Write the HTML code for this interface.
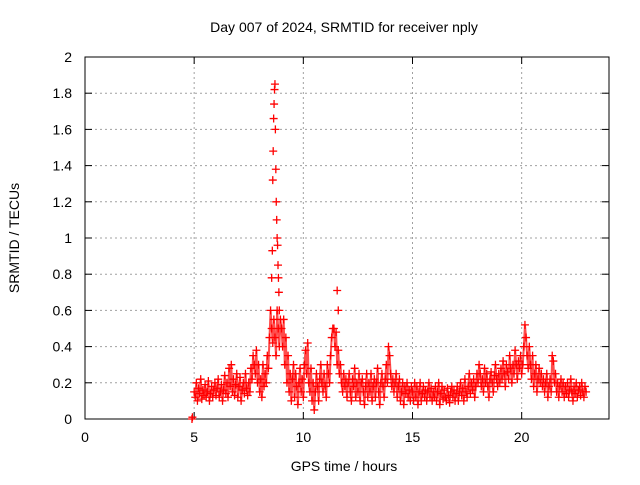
<!DOCTYPE html>
<html><head><meta charset="utf-8"><style>
body{margin:0;background:#fff}
svg text{font-family:"Liberation Sans",sans-serif;font-size:14px;fill:#000}
</style></head><body>
<svg id="c" width="640" height="480">
<rect x="0" y="0" width="640" height="480" fill="#fff"/>
<g id="grid"></g>
<rect x="85" y="57" width="524" height="362" fill="none" stroke="#000" stroke-width="1"/>
<g id="ticks"></g>
<g id="marks"></g>
<text x="344" y="32" text-anchor="middle">Day 007 of 2024, SRMTID for receiver nply</text>
<text x="344" y="471" text-anchor="middle">GPS time / hours</text>
<text x="19" y="238" text-anchor="middle" transform="rotate(-90 19 238)">SRMTID / TECUs</text>
</svg>
<script>
const xTicks=[0,5,10,15,20];
const yTicks=[0,0.2,0.4,0.6,0.8,1,1.2,1.4,1.6,1.8,2];
const yTickLabels=["0","0.2","0.4","0.6","0.8","1","1.2","1.4","1.6","1.8","2"];
const startHour=5.0, stepHour=0.05;
const values=[
0.15,0.12,0.2,0.1,0.17,0.14,0.22,0.11,0.16,0.13,0.19,0.12,0.15,0.21,0.1,0.14,0.18,0.12,0.16,0.2,
0.13,0.17,0.22,0.12,0.15,0.19,0.1,0.16,0.24,0.14,0.2,0.12,0.28,0.18,0.3,0.15,0.22,0.13,0.19,0.25,
0.12,0.18,0.23,0.1,0.16,0.2,0.14,0.25,0.17,0.13,0.2,0.15,0.28,0.22,0.35,0.3,0.25,0.38,0.2,0.3,
0.15,0.22,0.12,0.3,0.18,0.25,0.2,0.35,0.28,0.45,
0.6,0.5,0.42,0.55,0.45,0.35,0.6,0.5,0.4,0.55,
0.5,0.4,0.55,0.3,0.45,0.2,0.35,0.15,0.25,0.1,0.22,0.3,0.12,0.25,0.18,0.08,0.2,0.28,0.15,0.22,
0.12,0.3,0.38,0.25,0.42,0.2,0.15,0.28,0.1,0.2,0.05,0.15,0.25,0.18,0.1,0.22,0.3,0.2,0.15,0.25,
0.18,0.12,0.3,0.25,0.2,0.35,0.45,0.5,0.5,0.4,0.48,0.3,0.38,0.25,0.3,0.2,0.15,0.25,0.18,0.22,
0.12,0.2,0.25,0.15,0.1,0.22,0.18,0.28,0.12,0.2,0.15,0.25,0.1,0.2,0.22,0.15,0.08,0.18,0.25,0.12,
0.2,0.15,0.25,0.1,0.18,0.22,0.12,0.2,0.28,0.15,0.08,0.2,0.25,0.18,0.12,0.22,0.3,0.2,0.4,0.35,
0.25,0.18,0.22,0.15,0.2,0.25,0.12,0.18,0.22,0.1,0.15,0.2,0.08,0.18,0.14,0.2,0.12,0.16,0.1,0.18,
0.15,0.1,0.2,0.12,0.18,0.08,0.15,0.2,0.1,0.14,0.18,0.12,0.16,0.1,0.15,0.2,0.12,0.17,0.1,0.15,
0.12,0.18,0.1,0.15,0.2,0.08,0.14,0.18,0.11,0.16,0.12,0.1,0.17,0.13,0.09,0.15,0.18,0.12,0.16,0.1,
0.14,0.18,0.1,0.15,0.2,0.13,0.17,0.1,0.22,0.15,0.12,0.18,0.25,0.14,0.2,0.16,0.22,0.12,0.18,0.25,
0.2,0.3,0.25,0.18,0.22,0.15,0.28,0.2,0.25,0.18,0.12,0.22,0.26,0.2,0.15,0.24,0.3,0.22,0.18,0.25,
0.2,0.28,0.22,0.32,0.25,0.18,0.3,0.26,0.22,0.35,0.28,0.2,0.3,0.25,0.38,0.3,0.22,0.32,0.28,0.35,
0.25,0.3,0.4,0.52,0.45,0.35,0.28,0.4,0.3,0.22,0.35,0.18,0.25,0.3,0.15,0.22,0.28,0.2,0.25,0.18,
0.22,0.15,0.2,0.25,0.12,0.18,0.22,0.15,0.35,0.32,0.2,0.25,0.15,0.2,0.12,0.18,0.22,0.15,0.2,0.12,
0.18,0.14,0.2,0.12,0.16,0.22,0.15,0.1,0.18,0.14,0.2,0.12,0.16,0.18,0.13,0.2,0.15,0.12,0.18,0.15];
const spikeHours=[4.9,4.92,8.55,8.58,8.6,8.62,8.64,8.66,8.68,8.7,8.72,8.74,8.76,8.78,8.8,8.82,8.84,8.86,8.88,8.9,11.55,11.6];
const spikeValues=[0,0.01,0.78,0.93,1.32,1.48,1.66,1.74,1.82,1.85,1.6,1.38,1.2,1.1,1.0,0.96,0.85,0.78,0.7,0.6,0.71,0.6];

const NS="http://www.w3.org/2000/svg";
const X0=85,X1=609,Y0=419,Y1=57;
const xs=h=>X0+(h/24)*(X1-X0);
const ys=v=>Y0-(v/2)*(Y0-Y1);
function mk(t,a,p){const e=document.createElementNS(NS,t);for(const k in a)e.setAttribute(k,a[k]);p.appendChild(e);return e;}
const grid=document.getElementById('grid'),ticks=document.getElementById('ticks'),marks=document.getElementById('marks');
yTicks.forEach((v,i)=>{
 const y=ys(v);
 if(i>0&&i<yTicks.length-1){const g=mk('line',{x1:X0,x2:X1,y1:y,y2:y,stroke:'#a0a0a0','stroke-dasharray':'2,3'},grid);
 
 }
 mk('line',{x1:X0,x2:X0+7,y1:y,y2:y,stroke:'#000'},ticks);
 mk('line',{x1:X1,x2:X1-7,y1:y,y2:y,stroke:'#000'},ticks);
 const t=mk('text',{x:72,y:y+5,'text-anchor':'end'},ticks);t.textContent=yTickLabels[i];
 
 
});
xTicks.forEach(h=>{
 const x=xs(h);
 if(h>0){const g=mk('line',{x1:x,x2:x,y1:Y0,y2:Y1,stroke:'#a0a0a0','stroke-dasharray':'2,3'},grid);
 
 }
 mk('line',{x1:x,x2:x,y1:Y0,y2:Y0-7,stroke:'#000'},ticks);
 mk('line',{x1:x,x2:x,y1:Y1,y2:Y1+7,stroke:'#000'},ticks);
 const t=mk('text',{x:x,y:442,'text-anchor':'middle'},ticks);t.textContent=String(h);
 
 
});
let pts=values.map((v,i)=>[xs(startHour+i*stepHour),ys(v)]);
const band=mk('polyline',{points:pts.map(p=>p.join(',')).join(' '),fill:'none',stroke:'#f00','stroke-width':2,opacity:0.7},marks);


function plus(x,y){
 const p=mk('path',{d:`M${x-4},${y}H${x+4}M${x},${y-4}V${y+4}`,stroke:'#f00','stroke-width':1.3,fill:'none'},marks);
 
 
}
pts.forEach(p=>plus(p[0],p[1]));
spikeHours.forEach((h,i)=>plus(xs(h),ys(spikeValues[i])));
</script>
</body></html>
